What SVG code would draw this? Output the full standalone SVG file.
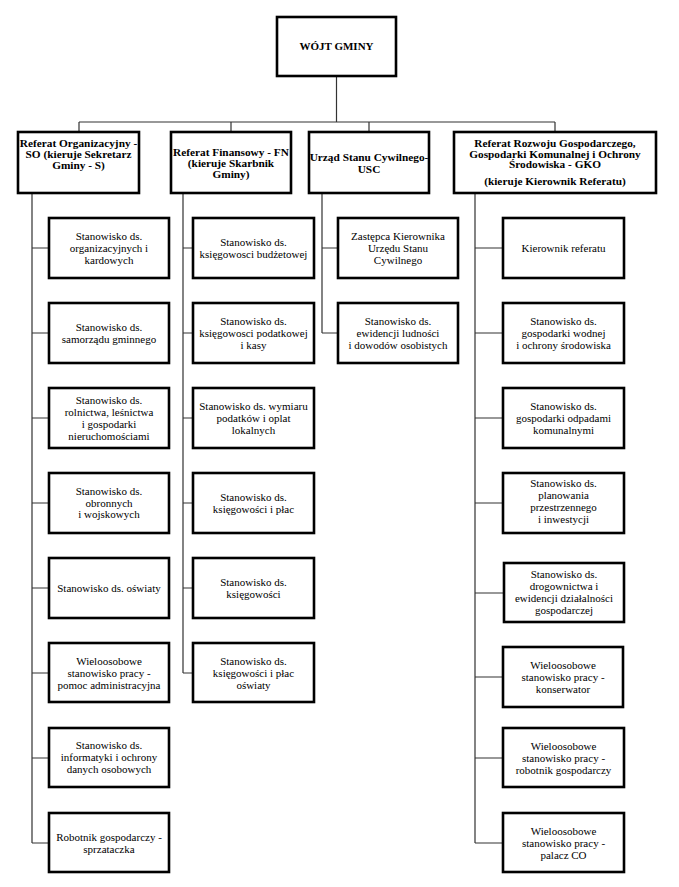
<svg xmlns="http://www.w3.org/2000/svg" width="679" height="887" viewBox="0 0 679 887">
<style>
  .bg { fill: #ffffff; }
  .box { fill: #ffffff; stroke: #000000; stroke-width: 2.6; }
  .hd { font-family: "Liberation Serif", "Times New Roman", serif; font-size: 11.3px; font-weight: bold; fill: #000; text-anchor: middle; }
  .top { font-family: "Liberation Serif", "Times New Roman", serif; font-size: 11px; font-weight: bold; fill: #000; text-anchor: middle; }
  .t { font-family: "Liberation Serif", "Times New Roman", serif; font-size: 11px; fill: #000; text-anchor: middle; }
  .ln { stroke: #333333; stroke-width: 1.2; fill: none; }
</style>
<rect class="bg" x="0" y="0" width="679" height="887"/>

<g id="connectors">
  <path class="ln" d="M336.5 76 V122 M79 122 H555 M79 122 V131 M231 122 V131 M369 122 V131 M555 122 V131"/>
  <path class="ln" d="M32 193 V843 M32 248 H49 M32 333 H49 M32 418 H49 M32 503 H49 M32 588 H49 M32 673 H49 M32 758 H49 M32 843 H49"/>
  <path class="ln" d="M183 193 V673 M183 248 H193 M183 333 H193 M183 418 H193 M183 503 H193 M183 588 H193 M183 673 H193"/>
  <path class="ln" d="M322 193 V333 M322 248 H338 M322 333 H338"/>
  <path class="ln" d="M475 193 V843 M475 248 H503 M475 333 H503 M475 418 H503 M475 503 H503 M475 593 H503 M475 677 H503 M475 758 H503 M475 843 H503"/>
</g>

<g id="wojt">
  <rect class="box" x="277" y="17" width="119" height="59"/>
  <text class="top" x="336.5" y="50">WÓJT GMINY</text>
</g>

<g id="ref-so">
  <rect class="box" x="18" y="132" width="121" height="61"/>
  <text class="hd"><tspan x="78.5" y="147">Referat Organizacyjny -</tspan><tspan x="78.5" y="158">SO (kieruje Sekretarz</tspan><tspan x="78.5" y="169">Gminy - S)</tspan></text>
</g>
<g id="ref-fn">
  <rect class="box" x="171" y="132" width="120" height="61"/>
  <text class="hd"><tspan x="231" y="156">Referat Finansowy - FN</tspan><tspan x="231" y="167">(kieruje Skarbnik</tspan><tspan x="231" y="178">Gminy)</tspan></text>
</g>
<g id="ref-usc">
  <rect class="box" x="309" y="132" width="120" height="61"/>
  <text class="hd"><tspan x="369" y="161">Urząd Stanu Cywilnego-</tspan><tspan x="369" y="172.5">USC</tspan></text>
</g>
<g id="ref-gko">
  <rect class="box" x="454" y="132" width="202" height="61"/>
  <text class="hd"><tspan x="555" y="147">Referat Rozwoju Gospodarczego,</tspan><tspan x="555" y="157.5">Gospodarki Komunalnej i Ochrony</tspan><tspan x="555" y="168">Środowiska - GKO</tspan><tspan x="555" y="185">(kieruje Kierownik Referatu)</tspan></text>
</g>

<!-- Column 1 -->
<g id="so-1"><rect class="box" x="49" y="218" width="120" height="60"/>
  <text class="t"><tspan x="109" y="240">Stanowisko ds.</tspan><tspan x="109" y="252">organizacyjnych i</tspan><tspan x="109" y="264">kardowych</tspan></text></g>
<g id="so-2"><rect class="box" x="49" y="303" width="120" height="60"/>
  <text class="t"><tspan x="109" y="331">Stanowisko ds.</tspan><tspan x="109" y="343">samorządu gminnego</tspan></text></g>
<g id="so-3"><rect class="box" x="49" y="388" width="120" height="60"/>
  <text class="t"><tspan x="109" y="404">Stanowisko ds.</tspan><tspan x="109" y="416">rolnictwa, leśnictwa</tspan><tspan x="109" y="428">i gospodarki</tspan><tspan x="109" y="440">nieruchomościami</tspan></text></g>
<g id="so-4"><rect class="box" x="49" y="473" width="120" height="60"/>
  <text class="t"><tspan x="109" y="495">Stanowisko ds.</tspan><tspan x="109" y="506.5">obronnych</tspan><tspan x="109" y="518">i wojskowych</tspan></text></g>
<g id="so-5"><rect class="box" x="49" y="558" width="120" height="60"/>
  <text class="t"><tspan x="109" y="592">Stanowisko ds. oświaty</tspan></text></g>
<g id="so-6"><rect class="box" x="49" y="643" width="120" height="59"/>
  <text class="t"><tspan x="109" y="665">Wieloosobowe</tspan><tspan x="109" y="677">stanowisko pracy -</tspan><tspan x="109" y="689">pomoc administracyjna</tspan></text></g>
<g id="so-7"><rect class="box" x="49" y="728" width="120" height="59"/>
  <text class="t"><tspan x="109" y="749">Stanowisko ds.</tspan><tspan x="109" y="761">informatyki i ochrony</tspan><tspan x="109" y="773">danych osobowych</tspan></text></g>
<g id="so-8"><rect class="box" x="49" y="813" width="120" height="59"/>
  <text class="t"><tspan x="109" y="841">Robotnik gospodarczy -</tspan><tspan x="109" y="853">sprzataczka</tspan></text></g>

<!-- Column 2 -->
<g id="fn-1"><rect class="box" x="193" y="218" width="121" height="60"/>
  <text class="t"><tspan x="253.5" y="246">Stanowisko ds.</tspan><tspan x="253.5" y="258">księgowosci budżetowej</tspan></text></g>
<g id="fn-2"><rect class="box" x="193" y="303" width="121" height="60"/>
  <text class="t"><tspan x="253.5" y="325">Stanowisko ds.</tspan><tspan x="253.5" y="337">księgowosci podatkowej</tspan><tspan x="253.5" y="349">i kasy</tspan></text></g>
<g id="fn-3"><rect class="box" x="193" y="388" width="121" height="60"/>
  <text class="t"><tspan x="253.5" y="410">Stanowisko ds. wymiaru</tspan><tspan x="253.5" y="422">podatków i oplat</tspan><tspan x="253.5" y="434">lokalnych</tspan></text></g>
<g id="fn-4"><rect class="box" x="193" y="473" width="121" height="60"/>
  <text class="t"><tspan x="253.5" y="501">Stanowisko ds.</tspan><tspan x="253.5" y="513">księgowości i płac</tspan></text></g>
<g id="fn-5"><rect class="box" x="193" y="558" width="121" height="60"/>
  <text class="t"><tspan x="253.5" y="586">Stanowisko ds.</tspan><tspan x="253.5" y="598">księgowości</tspan></text></g>
<g id="fn-6"><rect class="box" x="193" y="643" width="121" height="59"/>
  <text class="t"><tspan x="253.5" y="665">Stanowisko ds.</tspan><tspan x="253.5" y="677">księgowości i płac</tspan><tspan x="253.5" y="689">oświaty</tspan></text></g>

<!-- Column 3 -->
<g id="usc-1"><rect class="box" x="338" y="218" width="120" height="60"/>
  <text class="t"><tspan x="398" y="240">Zastępca Kierownika</tspan><tspan x="398" y="252">Urzędu Stanu</tspan><tspan x="398" y="264">Cywilnego</tspan></text></g>
<g id="usc-2"><rect class="box" x="338" y="303" width="120" height="60"/>
  <text class="t"><tspan x="398" y="325">Stanowisko ds.</tspan><tspan x="398" y="337">ewidencji ludności</tspan><tspan x="398" y="349">i dowodów osobistych</tspan></text></g>

<!-- Column 4 -->
<g id="gko-1"><rect class="box" x="503" y="218" width="121" height="60"/>
  <text class="t"><tspan x="563.5" y="252">Kierownik referatu</tspan></text></g>
<g id="gko-2"><rect class="box" x="503" y="303" width="121" height="60"/>
  <text class="t"><tspan x="563.5" y="325">Stanowisko ds.</tspan><tspan x="563.5" y="337">gospodarki wodnej</tspan><tspan x="563.5" y="349">i ochrony środowiska</tspan></text></g>
<g id="gko-3"><rect class="box" x="503" y="388" width="121" height="60"/>
  <text class="t"><tspan x="563.5" y="410">Stanowisko ds.</tspan><tspan x="563.5" y="422">gospodarki odpadami</tspan><tspan x="563.5" y="434">komunalnymi</tspan></text></g>
<g id="gko-4"><rect class="box" x="503" y="473" width="121" height="60"/>
  <text class="t"><tspan x="563.5" y="487">Stanowisko ds.</tspan><tspan x="563.5" y="499">planowania</tspan><tspan x="563.5" y="511">przestrzennego</tspan><tspan x="563.5" y="523">i inwestycji</tspan></text></g>
<g id="gko-5"><rect class="box" x="504" y="563" width="120" height="59"/>
  <text class="t"><tspan x="564" y="578">Stanowisko ds.</tspan><tspan x="564" y="590">drogownictwa i</tspan><tspan x="564" y="602">ewidencji działalności</tspan><tspan x="564" y="614">gospodarczej</tspan></text></g>
<g id="gko-6"><rect class="box" x="503" y="647" width="120" height="60"/>
  <text class="t"><tspan x="563" y="669">Wieloosobowe</tspan><tspan x="563" y="681">stanowisko pracy -</tspan><tspan x="563" y="693">konserwator</tspan></text></g>
<g id="gko-7"><rect class="box" x="503" y="728" width="121" height="59"/>
  <text class="t"><tspan x="563.5" y="750">Wieloosobowe</tspan><tspan x="563.5" y="762">stanowisko pracy -</tspan><tspan x="563.5" y="774">robotnik gospodarczy</tspan></text></g>
<g id="gko-8"><rect class="box" x="503" y="813" width="121" height="59"/>
  <text class="t"><tspan x="563.5" y="835">Wieloosobowe</tspan><tspan x="563.5" y="847">stanowisko pracy -</tspan><tspan x="563.5" y="859">palacz CO</tspan></text></g>
</svg>
